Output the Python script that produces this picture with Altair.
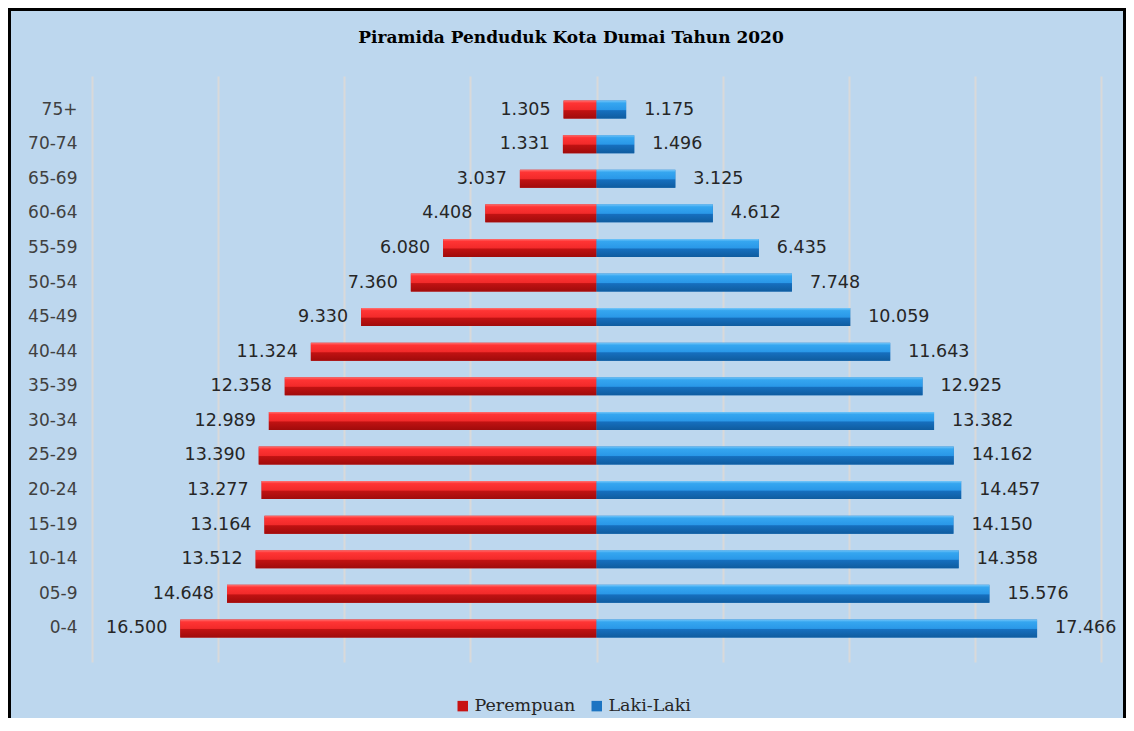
import altair as alt
import pandas as pd

ages = ["75+", "70-74", "65-69", "60-64", "55-59", "50-54", "45-49", "40-44",
        "35-39", "30-34", "25-29", "20-24", "15-19", "10-14", "05-9", "0-4"]
female = [1305, 1331, 3037, 4408, 6080, 7360, 9330, 11324,
          12358, 12989, 13390, 13277, 13164, 13512, 14648, 16500]
male = [1175, 1496, 3125, 4612, 6435, 7748, 10059, 11643,
        12925, 13382, 14162, 14457, 14150, 14358, 15576, 17466]
sexes = ["Perempuan", "Laki-Laki"]
grid_values = [-20000, -15000, -10000, -5000, 0, 5000, 10000, 15000, 20000]
title_text = "Piramida Penduduk Kota Dumai Tahun 2020"


def fmt(v):
    return f"{v:,}".replace(",", ".")


rows = []
for a, f, m in zip(ages, female, male):
    rows.append({"age": a, "sex": "Perempuan", "val": -f, "label": fmt(f)})
    rows.append({"age": a, "sex": "Laki-Laki", "val": m, "label": fmt(m)})
df = pd.DataFrame(rows)

W, H = 1009, 586
PL, PT, PR, PB = 84, 68, 25, 56

yenc = alt.Y("age:N", sort=ages,
             scale=alt.Scale(paddingInner=0.48, paddingOuter=0.71),
             axis=alt.Axis(title=None, ticks=False, domain=False, grid=False,
                           labelFont="DejaVu Sans", labelFontSize=17,
                           labelColor="#404040", labelPadding=15))
xenc = alt.X("val:Q", stack=None,
             scale=alt.Scale(domain=[-20000, 20000], nice=False),
             axis=alt.Axis(title=None, labels=False, ticks=False, domain=False,
                           grid=True, values=grid_values, gridColor="#D9D9D9",
                           gridWidth=2))

base = alt.Chart(df)

bars_legend = base.mark_bar().encode(
    y=yenc, x=xenc,
    color=alt.Color("sex:N",
                    scale=alt.Scale(domain=sexes, range=["#C81212", "#1C74C2"]),
                    legend=alt.Legend(title=None, orient="none", direction="horizontal",
                                      legendX=362, legendY=621,
                                      symbolType="square", symbolSize=110,
                                      symbolStrokeWidth=0, labelFont="DejaVu Serif",
                                      labelFontSize=17.5, labelColor="#262626",
                                      labelOffset=3, columnPadding=12)),
)

grad_red = alt.Gradient(gradient="linear", x1=0, x2=0, y1=0, y2=1, stops=[
    alt.GradientStop(color="#FF7070", offset=0),
    alt.GradientStop(color="#FF3434", offset=0.14),
    alt.GradientStop(color="#F22A2A", offset=0.5),
    alt.GradientStop(color="#C01212", offset=0.56),
    alt.GradientStop(color="#A00B0B", offset=1),
])
grad_blue = alt.Gradient(gradient="linear", x1=0, x2=0, y1=0, y2=1, stops=[
    alt.GradientStop(color="#74C6F9", offset=0),
    alt.GradientStop(color="#35A6F0", offset=0.14),
    alt.GradientStop(color="#2A98E8", offset=0.5),
    alt.GradientStop(color="#166FBE", offset=0.56),
    alt.GradientStop(color="#0F5C9F", offset=1),
])

bars_f = base.transform_filter(alt.datum.sex == "Perempuan").mark_bar(
    color=grad_red).encode(y=yenc, x=xenc)
bars_m = base.transform_filter(alt.datum.sex == "Laki-Laki").mark_bar(
    color=grad_blue).encode(y=yenc, x=xenc)

text_f = base.transform_filter(alt.datum.sex == "Perempuan").mark_text(
    align="right", baseline="middle", dx=-13, font="DejaVu Sans",
    fontSize=17.5, color="#262626").encode(y=yenc, x=xenc, text="label:N")
text_m = base.transform_filter(alt.datum.sex == "Laki-Laki").mark_text(
    align="left", baseline="middle", dx=18, font="DejaVu Sans",
    fontSize=17.5, color="#262626").encode(y=yenc, x=xenc, text="label:N")

title = alt.Chart(pd.DataFrame({"t": [title_text]})).mark_text(
    font="DejaVu Serif", fontSize=17, fontWeight="bold", color="black",
    align="center", baseline="middle").encode(
    text="t:N", x=alt.value(571 - 8 - PL), y=alt.value(38 - 8 - PT))

frame = alt.Chart(pd.DataFrame({"k": [0]})).mark_rect(
    filled=False, stroke="black", strokeWidth=3).encode(
    x=alt.value(-PL + 1.5), x2=alt.value(W + PR - 1.5),
    y=alt.value(-PT + 1.5), y2=alt.value(H + PB + 10))

chart = alt.layer(bars_legend, bars_f, bars_m, text_f, text_m, title, frame).properties(
    width=W, height=H,
    autosize=alt.AutoSizeParams(type="none"),
    padding={"left": PL, "top": PT, "right": PR, "bottom": PB},
).configure(background="#BDD7EE").configure_view(strokeWidth=0)

chart.save("out.html", embed_options={"renderer": "svg", "actions": False})
